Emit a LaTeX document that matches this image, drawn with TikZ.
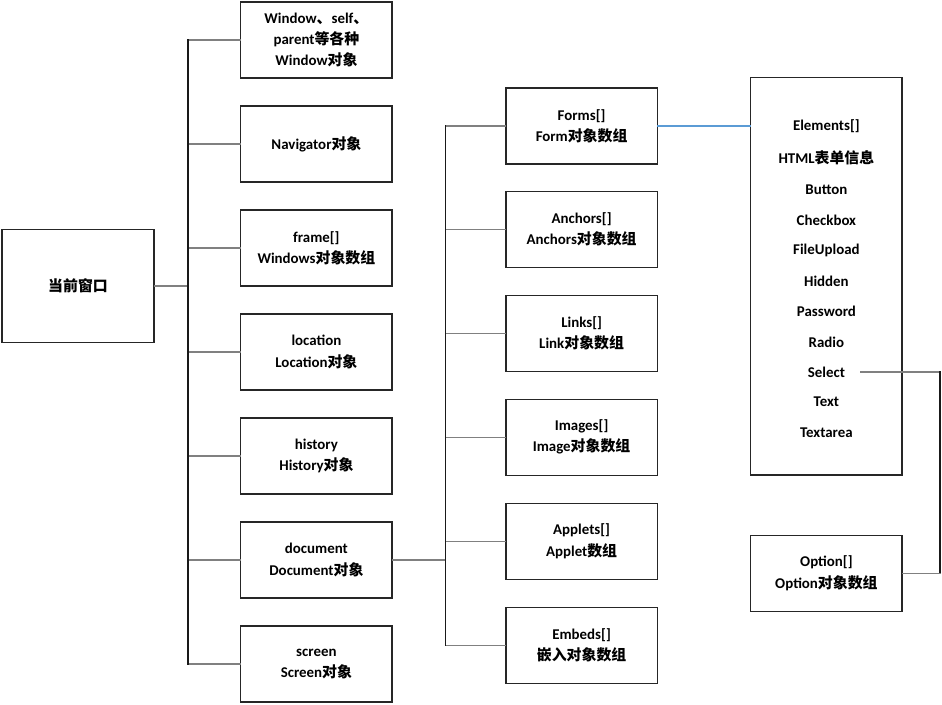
\documentclass[tikz,border=0pt]{standalone}
\usepackage{fontspec}
\setmainfont{Carlito}
\newfontfamily\cjk{Noto Sans CJK SC}
\newcommand{\zh}[1]{{\cjk #1}}
\begin{document}
\begin{tikzpicture}[x=1cm,y=1cm,font=\fontsize{10.6}{15}\selectfont\bfseries,line cap=rect,line join=miter]
\colorlet{boxc}{black!85}
\colorlet{stemc}{black!50}
\colorlet{busc}{black!90}
\definecolor{formc}{RGB}{91,155,213}

\tikzset{
objbox/.style={draw=boxc, line width=0.8pt, fill=white, align=center, minimum width=3.78cm, minimum height=1.9cm},
rootbox/.style={objbox, minimum width=3.8cm, minimum height=2.83cm},
listbox/.style={objbox, minimum height=9.93cm},
item/.style={inner sep=1pt, align=center},
stem/.style={draw=stemc, line width=1pt},
bus/.style={draw=busc, line width=0.8pt},
formlink/.style={draw=formc, line width=0.8pt}
}

\useasboundingbox (0,0) rectangle (23.55,-17.6);

\node[rootbox] (root) at (1.95,-7.15) {\zh{当前窗口}};

\node[objbox] (win) at (7.91,-1.0) {Window\zh{、}self\zh{、}\\parent\zh{等各种}\\Window\zh{对象}};
\node[objbox] (nav) at (7.91,-3.6) {Navigator\zh{对象}};
\node[objbox] (frm) at (7.91,-6.2) {frame[]\\Windows\zh{对象数组}};
\node[objbox] (loc) at (7.91,-8.8) {location\\Location\zh{对象}};
\node[objbox] (his) at (7.91,-11.4) {history\\History\zh{对象}};
\node[objbox] (doc) at (7.91,-14.0) {document\\Document\zh{对象}};
\node[objbox] (scr) at (7.91,-16.6) {screen\\Screen\zh{对象}};

\node[objbox] (forms) at (14.54,-3.15) {Forms[]\\Form\zh{对象数组}};
\node[objbox] (anchors) at (14.54,-5.73) {Anchors[]\\Anchors\zh{对象数组}};
\node[objbox] (links) at (14.54,-8.33) {Links[]\\Link\zh{对象数组}};
\node[objbox] (images) at (14.54,-10.93) {Images[]\\Image\zh{对象数组}};
\node[objbox] (applets) at (14.54,-13.53) {Applets[]\\Applet\zh{数组}};
\node[objbox] (embeds) at (14.54,-16.13) {Embeds[]\\\zh{嵌入对象数组}};

\node[listbox] (elem) at (20.66,-6.91) {};
\node[item] (elements) at (20.66,-3.15) {Elements[]};
\node[item] (html) at (20.66,-3.95) {HTML\zh{表单信息}};
\node[item] (button) at (20.66,-4.75) {Button};
\node[item] (checkbox) at (20.66,-5.5) {Checkbox};
\node[item] (upload) at (20.66,-6.25) {FileUpload};
\node[item] (hidden) at (20.66,-7.03) {Hidden};
\node[item] (password) at (20.66,-7.78) {Password};
\node[item] (radio) at (20.66,-8.55) {Radio};
\node[item] (select) at (20.66,-9.3) {Select};
\node[item] (text) at (20.66,-10.05) {Text};
\node[item] (textarea) at (20.66,-10.83) {Textarea};

\node[objbox] (opt) at (20.66,-14.33) {Option[]\\Option\zh{对象数组}};

\coordinate (busA) at (4.7,-7.15);
\coordinate (busB) at (11.13,-14.0);
\coordinate (selR) at (23.5,-9.3);

\draw[stem] (root.east) -- (busA);
\foreach \n in {win,nav,frm,loc,his,doc,scr}
  \draw[stem] (busA |- \n.west) -- (\n.west);
\draw[bus] (busA |- win.west) -- (busA |- scr.west);

\draw[stem] (doc.east) -- (busB);
\foreach \n in {forms,anchors,links,images,applets,embeds}
  \draw[stem] (busB |- \n.west) -- (\n.west);
\draw[bus] (busB |- forms.west) -- (busB |- embeds.west);

\draw[formlink] (forms.east) -- (forms.east -| elem.west);
\draw[stem] ([xshift=0.35cm]select.east) -- (selR);
\draw[bus] (selR) -- (selR |- opt.east);
\draw[stem] (selR |- opt.east) -- (opt.east);
\end{tikzpicture}
\end{document}
